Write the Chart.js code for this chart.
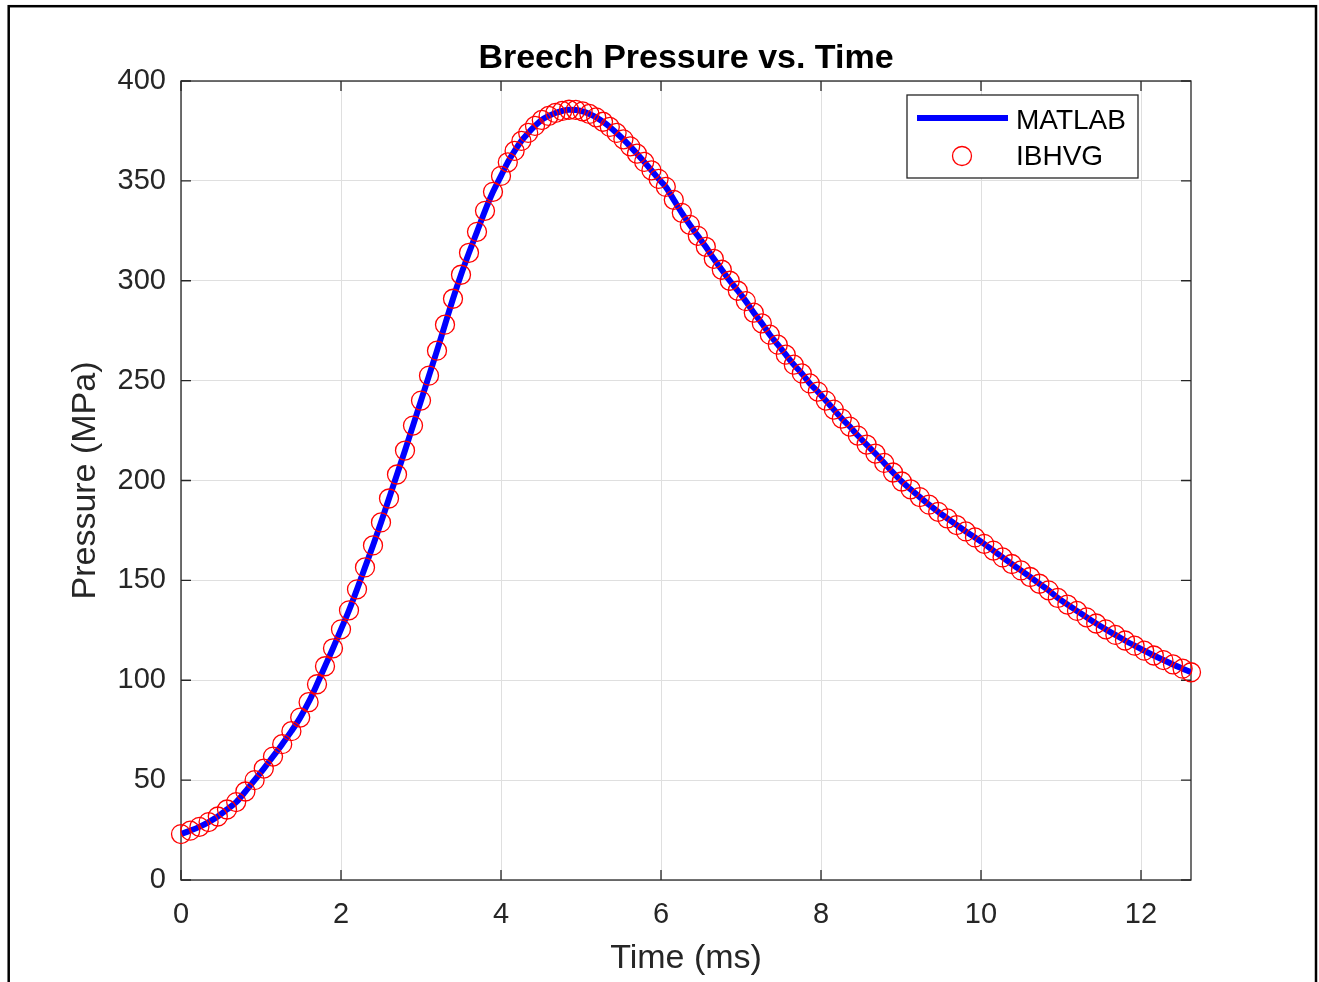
<!DOCTYPE html>
<html>
<head>
<meta charset="utf-8">
<title>Breech Pressure vs. Time</title>
<script src="https://cdn.jsdelivr.net/npm/chart.js@4.4.1/dist/chart.umd.min.js"></script>
<style>
  html, body { margin: 0; padding: 0; background: #ffffff; }
  canvas { display: block; }
</style>
</head>
<body>
<canvas id="chart" width="1319" height="982"></canvas>
<script>
'use strict';

// IBHVG output, time in ms / breech pressure in MPa (MATLAB line runs through the same points)
var timeMs = [
  0.000, 0.115, 0.230, 0.345, 0.460, 0.575, 0.690, 0.805, 0.920, 1.035,
  1.150, 1.265, 1.380, 1.490, 1.595, 1.700, 1.800, 1.900, 2.000, 2.100,
  2.200, 2.300, 2.400, 2.500, 2.600, 2.700, 2.800, 2.900, 3.000, 3.100,
  3.200, 3.300, 3.400, 3.500, 3.600, 3.700, 3.800, 3.900, 4.000, 4.085,
  4.170, 4.255, 4.340, 4.425, 4.510, 4.595, 4.680, 4.765, 4.850, 4.935,
  5.020, 5.105, 5.190, 5.275, 5.360, 5.445, 5.530, 5.615, 5.700, 5.790,
  5.880, 5.970, 6.060, 6.160, 6.260, 6.360, 6.460, 6.560, 6.660, 6.760,
  6.860, 6.960, 7.060, 7.160, 7.260, 7.360, 7.460, 7.560, 7.660, 7.760,
  7.860, 7.960, 8.060, 8.160, 8.260, 8.360, 8.460, 8.570, 8.680, 8.790,
  8.900, 9.010, 9.120, 9.235, 9.350, 9.465, 9.580, 9.695, 9.810, 9.925,
  10.040, 10.155, 10.270, 10.385, 10.500, 10.615, 10.730, 10.845, 10.960, 11.080,
  11.200, 11.320, 11.440, 11.560, 11.680, 11.800, 11.920, 12.040, 12.160, 12.280,
  12.400, 12.520, 12.625
];
var pressureMPa = [
  23.0, 24.7, 26.6, 29.0, 31.8, 35.3, 39.0, 44.3, 50.0, 55.8,
  61.8, 68.0, 74.5, 81.3, 89.0, 98.0, 107.0, 116.0, 125.5, 135.0,
  145.5, 156.5, 167.5, 179.0, 191.0, 203.0, 215.0, 227.5, 240.0, 252.5,
  265.0, 278.0, 291.0, 303.0, 314.0, 324.5, 335.0, 344.5, 352.5, 359.3,
  365.0, 370.0, 374.0, 377.5, 380.5, 382.5, 384.0, 385.0, 385.6, 385.5,
  384.8, 383.5, 381.8, 379.6, 377.0, 374.0, 370.8, 367.3, 363.6, 359.5,
  355.3, 351.0, 347.0, 340.5, 334.0, 328.0, 322.5, 317.0, 311.0, 305.5,
  300.0, 295.0, 289.8, 284.0, 278.7, 273.0, 268.0, 263.0, 258.0, 253.6,
  248.6, 244.5, 240.0, 235.5, 231.0, 227.0, 222.5, 218.0, 213.5, 208.8,
  204.0, 199.5, 195.6, 191.7, 187.9, 184.3, 181.0, 177.7, 174.5, 171.5,
  168.3, 164.9, 161.5, 158.2, 155.0, 151.7, 148.3, 145.0, 141.2, 137.9,
  134.7, 131.5, 128.4, 125.5, 122.7, 119.9, 117.3, 114.8, 112.4, 110.1,
  107.9, 105.8, 104.0
];
var seriesNames = ['MATLAB', 'IBHVG'];
var xTicks = [0, 2, 4, 6, 8, 10, 12];
var yTicks = [0, 50, 100, 150, 200, 250, 300, 350, 400];

var FONT = '"Liberation Sans", Arial, Helvetica, sans-serif';
var AXIS_COLOR = '#262626';
var GRID_COLOR = '#dfdfdf';

var points = timeMs.map(function (t, i) {
  return { x: t, y: pressureMPa[i] };
});

// MATLAB style bits: white page, figure frame, box with inward ticks, boxed legend
var matlabLook = {
  id: 'matlabLook',
  afterLayout: function (chart) {
    // MATLAB centres the title over the axes, not over the whole figure
    if (chart.titleBlock) {
      chart.titleBlock.left = chart.chartArea.left;
      chart.titleBlock.right = chart.chartArea.right;
    }
  },
  beforeDraw: function (chart) {
    var c = chart.ctx;
    c.save();
    c.fillStyle = '#ffffff';
    c.fillRect(0, 0, chart.width, chart.height);
    c.strokeStyle = '#000000';
    c.lineWidth = 2.5;
    c.strokeRect(8.7, 6.2, 1307.3, 1100);
    c.restore();
  },
  beforeDatasetsDraw: function (chart) {
    var c = chart.ctx;
    var a = chart.chartArea;
    var xs = chart.scales.x;
    var ys = chart.scales.y;
    var len = 10;
    c.save();
    c.strokeStyle = AXIS_COLOR;
    c.lineWidth = 1.3;
    c.strokeRect(a.left, a.top, a.right - a.left, a.bottom - a.top);
    c.beginPath();
    xTicks.forEach(function (v) {
      var px = xs.getPixelForValue(v);
      c.moveTo(px, a.bottom);
      c.lineTo(px, a.bottom - len);
      c.moveTo(px, a.top);
      c.lineTo(px, a.top + len);
    });
    yTicks.forEach(function (v) {
      var py = ys.getPixelForValue(v);
      c.moveTo(a.left, py);
      c.lineTo(a.left + len, py);
      c.moveTo(a.right, py);
      c.lineTo(a.right - len, py);
    });
    c.stroke();
    c.restore();
  },
  afterDatasetsDraw: function (chart) {
    var c = chart.ctx;
    var a = chart.chartArea;
    var w = 231;
    var h = 83;
    var bx = a.right - 53 - w;
    var by = a.top + 14;
    c.save();
    c.fillStyle = '#ffffff';
    c.fillRect(bx, by, w, h);
    c.strokeStyle = AXIS_COLOR;
    c.lineWidth = 1.3;
    c.strokeRect(bx, by, w, h);
    // line sample
    c.strokeStyle = '#0000ff';
    c.lineWidth = 6;
    c.beginPath();
    c.moveTo(bx + 10, by + 23);
    c.lineTo(bx + 101, by + 23);
    c.stroke();
    // marker sample
    c.strokeStyle = '#ff0000';
    c.lineWidth = 1.3;
    c.beginPath();
    c.arc(bx + 55, by + 61, 9.5, 0, Math.PI * 2);
    c.stroke();
    c.fillStyle = '#000000';
    c.font = '28px ' + FONT;
    c.textBaseline = 'middle';
    c.textAlign = 'left';
    c.fillText(seriesNames[0], bx + 109, by + 26);
    c.fillText(seriesNames[1], bx + 109, by + 62);
    c.restore();
  }
};

var ctx = document.getElementById('chart').getContext('2d');
/* eslint-disable-next-line no-unused-vars */
var chart = new Chart(ctx, {
  type: 'scatter',
  plugins: [matlabLook],
  data: {
    datasets: [
      {
        label: seriesNames[0],
        data: points,
        showLine: true,
        borderColor: '#0000ff',
        borderWidth: 6,
        pointRadius: 0,
        pointHoverRadius: 0,
        cubicInterpolationMode: 'monotone',
        order: 1,
      },
      {
        label: seriesNames[1],
        data: points,
        showLine: false,
        pointStyle: 'circle',
        pointRadius: 9.5,
        pointHoverRadius: 9.5,
        pointBorderWidth: 1.3,
        pointBorderColor: '#ff0000',
        pointBackgroundColor: 'rgba(0,0,0,0)',
        clip: false,
        order: 0,
      },
    ],
  },
  options: {
    responsive: false,
    animation: false,
    devicePixelRatio: 1,
    events: [],
    layout: {
      padding: { left: 50, right: 128, top: 0, bottom: 0 },
    },
    plugins: {
      legend: { display: false },
      tooltip: { enabled: false },
      title: {
        display: true,
        text: 'Breech Pressure vs. Time',
        color: '#000000',
        font: { family: FONT, size: 34, weight: 'bold' },
        padding: { top: 38.6, bottom: 1.6 },
      },
    },
    scales: {
      x: {
        type: 'linear',
        min: 0,
        max: 12.625,
        afterFit: function (scale) {
          scale.height = 102;
        },
        ticks: {
          stepSize: 2,
          includeBounds: false,
          color: AXIS_COLOR,
          font: { family: FONT, size: 29 },
          padding: 17.6,
          maxRotation: 0,
        },
        grid: { color: GRID_COLOR, lineWidth: 1, drawTicks: false },
        border: { display: false },
        title: {
          display: true,
          text: 'Time (ms)',
          color: AXIS_COLOR,
          font: { family: FONT, size: 34 },
          padding: { top: 0, bottom: 2.6 },
        },
      },
      y: {
        type: 'linear',
        min: 0,
        max: 400,
        afterFit: function (scale) {
          scale.width = 131;
        },
        ticks: {
          stepSize: 50,
          color: AXIS_COLOR,
          font: { family: FONT, size: 29 },
          padding: 15,
        },
        grid: { color: GRID_COLOR, lineWidth: 1, drawTicks: false },
        border: { display: false },
        title: {
          display: true,
          text: 'Pressure (MPa)',
          color: AXIS_COLOR,
          font: { family: FONT, size: 34 },
          padding: { top: 15.6, bottom: 0 },
        },
      },
    },
  },
});
</script>
</body>
</html>
